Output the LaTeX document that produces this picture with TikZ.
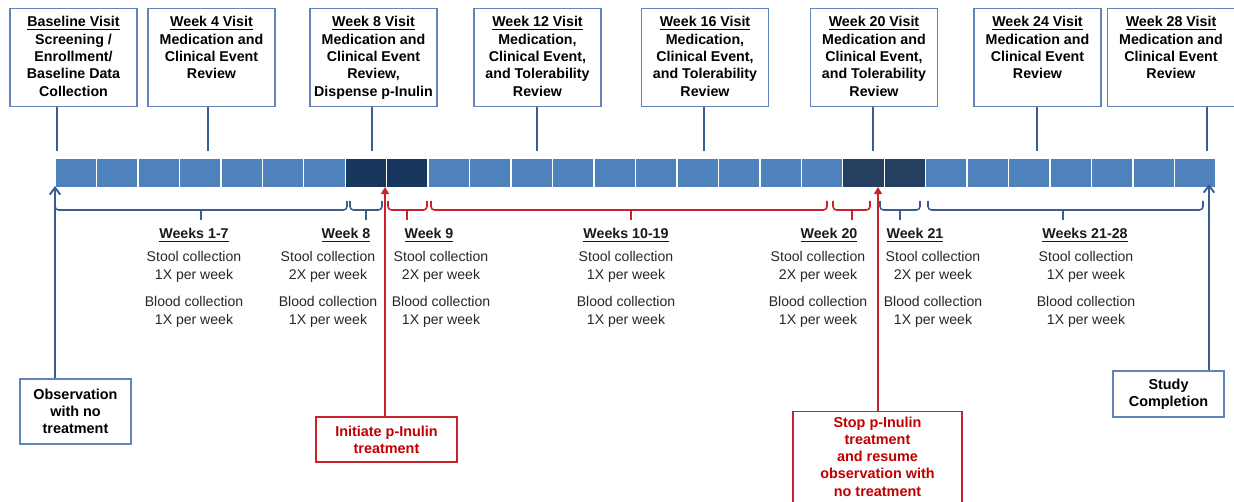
\documentclass[tikz,border=0pt]{standalone}
\usepackage{fontspec}
\setmainfont{Liberation Sans}
\usetikzlibrary{arrows.meta}
\definecolor{cellblue}{HTML}{4F81BD}
\definecolor{navya}{HTML}{17375E}
\definecolor{navyb}{HTML}{243F60}
\definecolor{boxline}{HTML}{6384BA}
\definecolor{linkblue}{HTML}{3A5F8F}
\definecolor{linkred}{HTML}{C8232B}
\definecolor{textred}{HTML}{C00000}
\tikzset{
  visit/.style={draw=boxline, line width=0.6pt, fill=white, anchor=north,
    inner xsep=0pt, inner ysep=4.5pt,
    execute at begin node={\begin{minipage}[t][46.8pt][t]{2.54cm}\centering
      \fontsize{8.1}{9.9}\selectfont\bfseries},
    execute at end node={\end{minipage}}},
  cell/.style={draw=white, line width=0.8pt, minimum width=0.8292cm,
    minimum height=0.58cm, inner sep=0pt},
  stem/.style={draw=linkblue, line width=1.1pt},
  periodbrace/.style={line width=0.9pt, rounded corners=2pt},
  wk/.style={font=\fontsize{8.1}{9.9}\selectfont\bfseries, inner sep=0pt, text=black!90},
  info/.style={font=\fontsize{8}{10.2}\selectfont, align=center, inner sep=0pt, text=black!85},
  endbox/.style={draw=boxline, line width=0.6pt, fill=white, align=center,
    inner sep=0pt, font=\fontsize{8.2}{9.8}\selectfont\bfseries},
  redbox/.style={endbox, draw=linkred, text=textred},
  bluearrow/.style={draw=linkblue, line width=1.1pt, -{Straight Barb[length=4pt,width=6pt]}},
  redarrow/.style={draw=linkred, line width=1.1pt, -{Triangle[length=4pt,width=4.5pt]}}
}
\begin{document}
\begin{tikzpicture}[x=0.02cm,y=-0.02cm]
  \useasboundingbox (0,0) rectangle (1234,502);
  \clip (0,0) rectangle (1234,502);

  % visits
  \node[visit] (v0) at (73.5,8) {\underline{Baseline Visit}\\Screening /\\Enrollment/\\Baseline Data\\Collection};
  \node[visit] (v4) at (211.5,8) {\underline{Week 4 Visit}\\Medication and\\Clinical Event\\Review};
  \node[visit] (v8) at (373.5,8) {\underline{Week 8 Visit}\\Medication and\\Clinical Event\\Review,\\Dispense p-Inulin};
  \node[visit] (v12) at (537.5,8) {\underline{Week 12 Visit}\\Medication,\\Clinical Event,\\and Tolerability\\Review};
  \node[visit] (v16) at (705,8) {\underline{Week 16 Visit}\\Medication,\\Clinical Event,\\and Tolerability\\Review};
  \node[visit] (v20) at (874,8) {\underline{Week 20 Visit}\\Medication and\\Clinical Event,\\and Tolerability\\Review};
  \node[visit] (v24) at (1037.5,8) {\underline{Week 24 Visit}\\Medication and\\Clinical Event\\Review};
  \node[visit] (v28) at (1171,8) {\underline{Week 28 Visit}\\Medication and\\Clinical Event\\Review};

  % weeks
  \foreach \i in {1,...,28}{
    \pgfmathsetmacro\cx{55+(\i-0.5)*41.46}
    \pgfmathparse{(\i==8||\i==9) ? "navya" : ((\i==20||\i==21) ? "navyb" : "cellblue")}
    \let\cellcol\pgfmathresult
    \node[cell,fill=\cellcol] (c\i) at (\cx,173) {};
  }

  \coordinate (t0) at (57,151);
  \coordinate (t4) at (208,151);
  \coordinate (t8) at (372,151);
  \coordinate (t12) at (537,151);
  \coordinate (t16) at (704,151);
  \coordinate (t20) at (873,151);
  \coordinate (t24) at (1037,151);
  \coordinate (t28) at (1207,151);
  \foreach \v in {0,4,8,12,16,20,24,28}
    \draw[stem] (v\v.south -| t\v) -- (t\v);

  % periods
  \foreach \xa/\xm/\xb/\col in {55/201/347/linkblue, 350/366/382/linkblue,
      388/407/427/linkred, 431/631/827/linkred, 833/852/870/linkred,
      880/900/920/linkblue, 928/1063/1203/linkblue}
    \draw[periodbrace,draw=\col] (\xa,201) |- (\xm,210) -| (\xb,201) (\xm,210) -- (\xm,220);

  \node[wk] (w1) at (194,235) {\underline{Weeks 1-7}};
  \node[wk] (w8) at (346,235) {\underline{Week 8}};
  \node[wk] (w9) at (429,235) {\underline{Week 9}};
  \node[wk] (w10) at (626,235) {\underline{Weeks 10-19}};
  \node[wk] (w20) at (829,235) {\underline{Week 20}};
  \node[wk] (w21) at (915,235) {\underline{Week 21}};
  \node[wk] (w28) at (1085,235) {\underline{Weeks 21-28}};

  \node[info] (s1) at (194,289.5) {Stool collection\\1X per week\\[5.2pt]Blood collection\\1X per week};
  \node[info] (s8) at (328,289.5) {Stool collection\\2X per week\\[5.2pt]Blood collection\\1X per week};
  \node[info] (s9) at (441,289.5) {Stool collection\\2X per week\\[5.2pt]Blood collection\\1X per week};
  \node[info] (s10) at (626,289.5) {Stool collection\\1X per week\\[5.2pt]Blood collection\\1X per week};
  \node[info] (s20) at (818,289.5) {Stool collection\\2X per week\\[5.2pt]Blood collection\\1X per week};
  \node[info] (s21) at (933,289.5) {Stool collection\\2X per week\\[5.2pt]Blood collection\\1X per week};
  \node[info] (s28) at (1086,289.5) {Stool collection\\1X per week\\[5.2pt]Blood collection\\1X per week};

  % treatment
  \node[endbox, minimum width=2.22cm, minimum height=1.3cm] (obs) at (75.5,411.5) {Observation\\with no\\treatment};
  \node[redbox, minimum width=2.82cm, minimum height=0.9cm] (init) at (386.5,439.5) {Initiate p-Inulin\\treatment};
  \node[redbox, minimum width=3.38cm, anchor=north, inner ysep=3pt] (stop) at (877.5,411) {Stop p-Inulin\\treatment\\and resume\\observation with\\no treatment\\\mbox{}};
  \node[endbox, minimum width=2.22cm, minimum height=0.92cm] (study) at (1168.5,394) {Study\\Completion};

  \coordinate (a0) at (55,186);
  \coordinate (r1) at (385,187);
  \coordinate (r2) at (878,187);
  \coordinate (a1) at (1209,184);
  \draw[bluearrow] (obs.north -| a0) -- (a0);
  \draw[redarrow] (init.north -| r1) -- (r1);
  \draw[redarrow] (stop.north -| r2) -- (r2);
  \draw[bluearrow] (study.north -| a1) -- (a1);
\end{tikzpicture}
\end{document}
